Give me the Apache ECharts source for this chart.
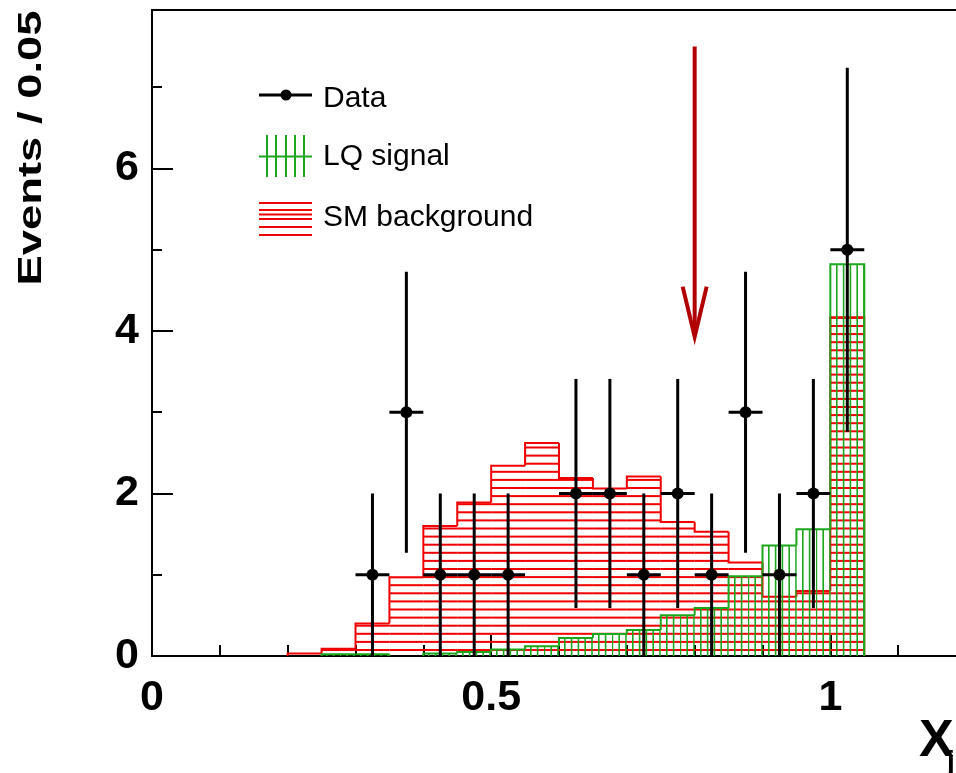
<!DOCTYPE html>
<html>
<head>
<meta charset="utf-8">
<script src="https://cdn.jsdelivr.net/npm/echarts@6/dist/echarts.min.js"></script>
<style>
  html, body { margin: 0; padding: 0; background: #ffffff; }
  #chart { width: 956px; height: 773px; }
</style>
</head>
<body>
<div id="chart"></div>
<script>
// Histogram bins (lower edges), width 0.05
const binLow = [0.20, 0.25, 0.30, 0.35, 0.40, 0.45, 0.50, 0.55, 0.60, 0.65, 0.70, 0.75, 0.80, 0.85, 0.90, 0.95, 1.00];
const binWidth = 0.05;

// Expected SM background per bin
const smBackground = [0.03, 0.09, 0.40, 0.97, 1.60, 1.89, 2.34, 2.62, 2.19, 2.06, 2.21, 1.65, 1.53, 1.15, 0.73, 0.80, 4.17];

// Expected LQ signal per bin
const lqSignal = [0.00, 0.02, 0.02, 0.00, 0.03, 0.05, 0.08, 0.12, 0.22, 0.27, 0.32, 0.50, 0.59, 0.98, 1.36, 1.56, 4.82];

// Observed data: bin centres, counts, statistical errors
const dataX = [0.325, 0.375, 0.425, 0.475, 0.525, 0.625, 0.675, 0.725, 0.775, 0.825, 0.875, 0.925, 0.975, 1.025];
const dataCounts = [1, 3, 1, 1, 1, 2, 2, 1, 2, 1, 3, 1, 2, 5];
const dataErr = [1.00, 1.73, 1.00, 1.00, 1.00, 1.41, 1.41, 1.00, 1.41, 1.00, 1.73, 1.00, 1.41, 2.24];

// Selection cut marker
const cutX = 0.80;
const cutArrowTop = 7.50;
const cutArrowTip = 3.93;

// Axis ranges (the frame runs slightly past the right edge of the page)
const xMin = 0, xMax = 1.2;
const yMin = 0, yMax = 7.95;

const FONT = '"Liberation Sans", Arial, Helvetica, sans-serif';
const RED = '#f00000';
const GREEN = '#1ca61c';

// Hatch tiles (anchored to the canvas origin, like pad-space hatching)
function makeTile(w, h, draw) {
  const c = document.createElement('canvas');
  c.width = w; c.height = h;
  draw(c.getContext('2d'));
  return c;
}
const redTile = makeTile(8, 81, ctx => {
  ctx.fillStyle = RED;
  for (let k = 0; k < 10; k++) ctx.fillRect(0, 2 + 8.1 * k - 1, 8, 2);
});
const greenTile = makeTile(68, 8, ctx => {
  ctx.fillStyle = GREEN;
  for (let k = 0; k < 10; k++) ctx.fillRect(0.4 + 6.8 * k - 0.8, 0, 1.6, 8);
});
const redHatch = { image: redTile, repeat: 'repeat' };
const greenHatch = { image: greenTile, repeat: 'repeat' };

function histRenderer(values, lineColor, hatch) {
  return function (params, api) {
    const i = params.dataIndex;
    const x0 = api.value(0), x1 = api.value(1), v = api.value(2);
    const prev = i > 0 ? values[i - 1] : 0;
    const children = [];
    if (v > 0) {
      const tl = api.coord([x0, v]);
      const br = api.coord([x1, 0]);
      children.push({
        type: 'rect',
        shape: { x: tl[0], y: tl[1], width: br[0] - tl[0], height: br[1] - tl[1] },
        style: { fill: hatch }
      });
    }
    let pts;
    if (v > 0) {
      pts = [api.coord([x0, prev]), api.coord([x0, v]), api.coord([x1, v])];
      if (i === values.length - 1) pts.push(api.coord([x1, 0]));
    } else if (prev > 0) {
      pts = [api.coord([x0, prev]), api.coord([x0, 0])];
    }
    if (pts) {
      children.push({
        type: 'polyline',
        shape: { points: pts },
        style: { stroke: lineColor, lineWidth: 2, fill: null }
      });
    }
    return { type: 'group', children: children };
  };
}

const smSeriesData = binLow.map((x, i) => [x, x + binWidth, smBackground[i]]);
const lqSeriesData = binLow.map((x, i) => [x, x + binWidth, lqSignal[i]]);
const dataSeriesData = dataX.map((x, i) => [x, dataCounts[i], dataErr[i]]);

const chart = echarts.init(document.getElementById('chart'), null, { renderer: 'canvas' });

const axisBase = {
  type: 'value',
  splitLine: { show: false },
  axisPointer: { show: false }
};

const option = {
  animation: false,
  backgroundColor: '#ffffff',
  grid: {
    left: 152, top: 10, right: -10, bottom: 117,
    outerBoundsMode: 'none', containLabel: false,
    show: true, borderColor: '#000', borderWidth: 2, backgroundColor: 'transparent'
  },
  xAxis: [
    Object.assign({}, axisBase, {
      min: xMin, max: xMax, interval: 0.5, position: 'bottom',
      axisLine: { show: true, onZero: false, lineStyle: { color: '#000', width: 2 } },
      axisTick: { show: true, inside: true, length: 21, lineStyle: { color: '#000', width: 2 } },
      axisLabel: {
        show: true, margin: 21, color: '#000', fontFamily: FONT, fontWeight: 'bold', fontSize: 43,
        showMaxLabel: false, showMinLabel: true
      }
    }),
    Object.assign({}, axisBase, {
      min: xMin, max: xMax, interval: 0.1, position: 'bottom',
      axisLine: { show: false },
      axisTick: { show: true, inside: true, length: 11, lineStyle: { color: '#000', width: 2 } },
      axisLabel: { show: false }
    })
  ],
  yAxis: [
    Object.assign({}, axisBase, {
      min: yMin, max: yMax, interval: 2, position: 'left',
      axisLine: { show: true, onZero: false, lineStyle: { color: '#000', width: 2 } },
      axisTick: { show: true, inside: true, length: 21, lineStyle: { color: '#000', width: 2 } },
      axisLabel: {
        show: true, margin: 13, color: '#000', fontFamily: FONT, fontWeight: 'bold', fontSize: 43,
        showMaxLabel: false, showMinLabel: true
      }
    }),
    Object.assign({}, axisBase, {
      min: yMin, max: yMax, interval: 1, position: 'left',
      axisLine: { show: false },
      axisTick: { show: true, inside: true, length: 10, lineStyle: { color: '#000', width: 2 } },
      axisLabel: { show: false }
    })
  ],
  series: [
    {
      name: 'SM background', type: 'custom', xAxisIndex: 0, yAxisIndex: 0, z: 2, clip: true,
      renderItem: histRenderer(smBackground, RED, redHatch),
      data: smSeriesData
    },
    {
      name: 'LQ signal', type: 'custom', xAxisIndex: 0, yAxisIndex: 0, z: 3, clip: true,
      renderItem: histRenderer(lqSignal, GREEN, greenHatch),
      data: lqSeriesData
    },
    {
      name: 'Data', type: 'custom', xAxisIndex: 0, yAxisIndex: 0, z: 5, clip: true,
      renderItem: function (params, api) {
        const x = api.value(0), n = api.value(1), e = api.value(2);
        const pLo = api.coord([x, Math.max(0, n - e)]);
        const pHi = api.coord([x, n + e]);
        const pL = api.coord([x - binWidth / 2, n]);
        const pR = api.coord([x + binWidth / 2, n]);
        const c = api.coord([x, n]);
        return {
          type: 'group',
          children: [
            { type: 'line', shape: { x1: pLo[0], y1: pLo[1], x2: pHi[0], y2: pHi[1] }, style: { stroke: '#000', lineWidth: 3 } },
            { type: 'line', shape: { x1: pL[0], y1: pL[1], x2: pR[0], y2: pR[1] }, style: { stroke: '#000', lineWidth: 3 } },
            { type: 'circle', shape: { cx: c[0], cy: c[1], r: 6 }, style: { fill: '#000' } }
          ]
        };
      },
      data: dataSeriesData
    },
    {
      name: 'cut', type: 'custom', xAxisIndex: 0, yAxisIndex: 0, z: 6, clip: false,
      renderItem: function (params, api) {
        const x = api.value(0);
        const top = api.coord([x, api.value(1)]);
        const tip = api.coord([x, api.value(2)]);
        const col = '#b00000';
        return {
          type: 'group',
          children: [
            { type: 'line', shape: { x1: top[0], y1: top[1], x2: tip[0], y2: tip[1] - 4 }, style: { stroke: col, lineWidth: 4 } },
            {
              type: 'polyline',
              shape: { points: [[tip[0] - 12, tip[1] - 50], [tip[0], tip[1]], [tip[0] + 12, tip[1] - 50]] },
              style: { stroke: col, lineWidth: 4, fill: null, lineJoin: 'miter' }
            }
          ]
        };
      },
      data: [[cutX, cutArrowTop, cutArrowTip]]
    }
  ],
  graphic: [
    // Legend: Data
    { type: 'line', shape: { x1: 259, y1: 95, x2: 312, y2: 95 }, style: { stroke: '#000', lineWidth: 3 } },
    { type: 'circle', shape: { cx: 286, cy: 95, r: 5.5 }, style: { fill: '#000' } },
    { type: 'text', x: 323, y: 99, style: { text: 'Data', fontFamily: FONT, fontSize: 30, fill: '#000', align: 'left', verticalAlign: 'middle' } },
    // Legend: LQ signal
    {
      type: 'group', children: [
        { type: 'line', shape: { x1: 259, y1: 156.5, x2: 312, y2: 156.5 }, style: { stroke: GREEN, lineWidth: 2 } },
        { type: 'line', shape: { x1: 267, y1: 135, x2: 267, y2: 177 }, style: { stroke: GREEN, lineWidth: 2 } },
        { type: 'line', shape: { x1: 276, y1: 135, x2: 276, y2: 177 }, style: { stroke: GREEN, lineWidth: 2 } },
        { type: 'line', shape: { x1: 286, y1: 135, x2: 286, y2: 177 }, style: { stroke: GREEN, lineWidth: 2 } },
        { type: 'line', shape: { x1: 295, y1: 135, x2: 295, y2: 177 }, style: { stroke: GREEN, lineWidth: 2 } },
        { type: 'line', shape: { x1: 304, y1: 135, x2: 304, y2: 177 }, style: { stroke: GREEN, lineWidth: 2 } }
      ]
    },
    { type: 'text', x: 323, y: 157, style: { text: 'LQ signal', fontFamily: FONT, fontSize: 30, fill: '#000', align: 'left', verticalAlign: 'middle' } },
    // Legend: SM background
    {
      type: 'group', children: [203, 210, 214.5, 219, 227, 235].map(y => ({
        type: 'line', shape: { x1: 259, y1: y, x2: 312, y2: y }, style: { stroke: RED, lineWidth: 2 }
      }))
    },
    { type: 'text', x: 323, y: 218, style: { text: 'SM background', fontFamily: FONT, fontSize: 30, fill: '#000', align: 'left', verticalAlign: 'middle' } },
    // Axis titles
    {
      type: 'text', x: 32, y: 148, rotation: Math.PI / 2, scaleX: 1.375,
      style: { text: 'Events / 0.05', fontFamily: FONT, fontWeight: 'bold', fontSize: 33, fill: '#000', align: 'center', verticalAlign: 'middle' }
    },
    { type: 'text', x: 919, y: 742, style: { text: 'X', fontFamily: FONT, fontWeight: 'bold', fontSize: 52, fill: '#000', align: 'left', verticalAlign: 'middle' } },
    { type: 'text', x: 947, y: 762, style: { text: 'j', fontFamily: FONT, fontWeight: 'bold', fontSize: 28, fill: '#000', align: 'left', verticalAlign: 'middle' } }
  ]
};

chart.setOption(option);
</script>
</body>
</html>
